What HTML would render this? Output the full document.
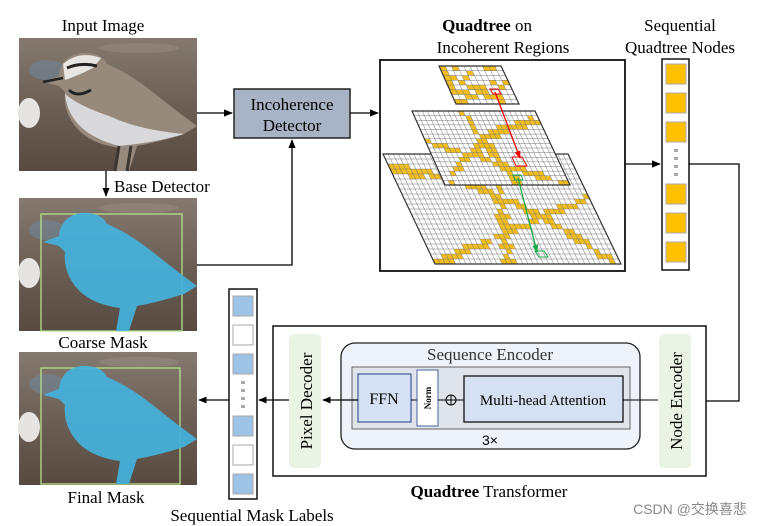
<!DOCTYPE html>
<html><head><meta charset="utf-8"><style>
html,body{margin:0;padding:0;background:#fff;}
svg{display:block;font-family:"Liberation Serif",serif;}
</style></head><body>
<svg id="s" width="762" height="526" viewBox="0 0 762 526" xmlns="http://www.w3.org/2000/svg">
<defs>
<marker id="ar" viewBox="0 0 10 10" refX="9" refY="5" markerWidth="7" markerHeight="7" orient="auto"><path d="M0,1 L10,5 L0,9 z" fill="#000"/></marker>
<marker id="ar2" viewBox="0 0 10 10" refX="9" refY="5" markerWidth="6" markerHeight="6" orient="auto"><path d="M0,1 L10,5 L0,9 z" fill="#e00"/></marker>
<marker id="ar3" viewBox="0 0 10 10" refX="9" refY="5" markerWidth="6" markerHeight="6" orient="auto"><path d="M0,1 L10,5 L0,9 z" fill="#1a4"/></marker>
<linearGradient id="bg" x1="0" y1="0" x2="0" y2="1"><stop offset="0" stop-color="#857a70"/><stop offset="0.5" stop-color="#6c6056"/><stop offset="1" stop-color="#574a40"/></linearGradient>
<path id="bird" d="M24,44 L40,38 Q42,18 62,15 Q82,14 88,26 Q110,35 135,55 Q160,75 178,88 L165,96 Q140,104 118,108 L110,133 L97,133 L101,110 Q70,106 56,88 Q44,72 46,54 L40,48 Z"/>
<g id="photo">
<rect x="0" y="0" width="178" height="133" fill="url(#bg)"/>
<ellipse cx="28" cy="32" rx="18" ry="10" fill="#6f8598" opacity="0.6"/>
<ellipse cx="10" cy="75" rx="11" ry="15" fill="#e6e4e2"/>
<ellipse cx="120" cy="10" rx="40" ry="5" fill="#998e84" opacity="0.5"/>
</g>
</defs>
<text x="103" y="31" font-size="17" text-anchor="middle">Input Image</text>
<use href="#photo" x="19" y="38"/>
<g transform="translate(19,38)">
<use href="#bird" fill="#978a7d"/>
<path d="M46,56 Q50,95 100,108 Q140,104 165,96 Q120,92 90,78 Q60,68 46,56z" fill="#d9d9db"/>
<path d="M44,26 Q60,12 82,20 L74,30 Q58,38 46,42z" fill="#e8e6e2"/>
<path d="M48,30 Q62,24 78,28" stroke="#222" stroke-width="3" fill="none"/>
<path d="M50,52 Q58,60 72,52" stroke="#222" stroke-width="3" fill="none"/>
<path d="M24,44 L44,40" stroke="#222" stroke-width="2.5"/>
<path d="M100,108 L96,133 M112,108 L108,133" stroke="#3a3530" stroke-width="3"/>
</g>
<line x1="106" y1="171" x2="106" y2="196" stroke="#000" stroke-width="1.3" marker-end="url(#ar)"/>
<text x="114" y="192" font-size="17">Base Detector</text>
<use href="#photo" x="19" y="198"/>
<rect x="41" y="214" width="141" height="117" fill="none" stroke="#b5e08a" stroke-width="1.3"/>
<use href="#bird" x="19" y="198" fill="#45b0dc" opacity="0.93"/>
<text x="103" y="348" font-size="17" text-anchor="middle">Coarse Mask</text>
<use href="#photo" x="19" y="352"/>
<rect x="41" y="368" width="139" height="116" fill="none" stroke="#b5e08a" stroke-width="1.3"/>
<use href="#bird" x="19" y="351" fill="#45b0dc" opacity="0.93"/>
<text x="106" y="503" font-size="17" text-anchor="middle">Final Mask</text>

<line x1="197" y1="113" x2="232" y2="113" stroke="#000" stroke-width="1.3" marker-end="url(#ar)"/>
<rect x="234" y="89" width="116" height="49" fill="#a8b3c6" stroke="#222" stroke-width="1.5"/>
<text x="292" y="110" font-size="17" text-anchor="middle">Incoherence</text>
<text x="292" y="131" font-size="17" text-anchor="middle">Detector</text>
<polyline points="197,265 292,265 292,140" fill="none" stroke="#000" stroke-width="1.3" marker-end="url(#ar)"/>
<line x1="350" y1="113" x2="378" y2="113" stroke="#000" stroke-width="1.3" marker-end="url(#ar)"/>

<text x="487" y="31" font-size="17" text-anchor="middle"><tspan font-weight="bold">Quadtree</tspan> on</text>
<text x="503" y="53" font-size="17" text-anchor="middle">Incoherent Regions</text>
<rect x="380" y="60" width="245" height="211" fill="#fff" stroke="#111" stroke-width="1.8"/>
<g id="grids"></g>
<line x1="495" y1="92" x2="520" y2="158" stroke="#e00" stroke-width="1.3" marker-end="url(#ar2)"/>
<line x1="518" y1="178" x2="537" y2="252" stroke="#1a4" stroke-width="1.3" marker-end="url(#ar3)"/>

<text x="680" y="31" font-size="17" text-anchor="middle">Sequential</text>
<text x="680" y="53" font-size="17" text-anchor="middle">Quadtree Nodes</text>
<rect x="662" y="59" width="27" height="211" fill="#fff" stroke="#111" stroke-width="1.5"/>
<g fill="#ffc000" stroke="#aaa" stroke-width="1">
<rect x="666" y="64" width="20" height="20"/><rect x="666" y="93" width="20" height="20"/><rect x="666" y="122" width="20" height="20"/>
<rect x="666" y="184" width="20" height="20"/><rect x="666" y="213" width="20" height="20"/><rect x="666" y="242" width="20" height="20"/>
</g>
<g fill="#aaa"><rect x="674" y="149" width="4" height="3"/><rect x="674" y="157" width="4" height="3"/><rect x="674" y="165" width="4" height="3"/><rect x="674" y="173" width="4" height="3"/></g>
<line x1="625" y1="164" x2="660" y2="164" stroke="#000" stroke-width="1.3" marker-end="url(#ar)"/>
<polyline points="689,164 739,164 739,401 693,401" fill="none" stroke="#000" stroke-width="1.3" marker-end="url(#ar)"/>

<rect x="273" y="326" width="433" height="150" fill="#fff" stroke="#111" stroke-width="1.5"/>
<rect x="289" y="334" width="32" height="134" rx="5" fill="#eaf4e4"/>
<text transform="translate(312,401) rotate(-90)" font-size="17" text-anchor="middle">Pixel Decoder</text>
<rect x="659" y="334" width="32" height="134" rx="5" fill="#eaf4e4"/>
<text transform="translate(682,401) rotate(-90)" font-size="17" text-anchor="middle">Node Encoder</text>
<rect x="341" y="343" width="299" height="106" rx="14" fill="#eef3fb" stroke="#222" stroke-width="1.3"/>
<text x="490" y="360" font-size="17" fill="#333" text-anchor="middle">Sequence Encoder</text>
<rect x="352" y="367" width="278" height="62" fill="#dfe3ea" stroke="#666" stroke-width="1"/>
<rect x="358" y="374" width="53" height="48" fill="#d5e0f2" stroke="#4a64a0" stroke-width="1.3"/>
<text x="384" y="404" font-size="16" text-anchor="middle">FFN</text>
<rect x="417" y="370" width="21" height="56" fill="#fff" stroke="#4a64a0" stroke-width="1"/>
<text transform="translate(431,398) rotate(-90)" font-size="9" font-weight="bold" text-anchor="middle">Norm</text>
<circle cx="451" cy="400" r="5" fill="none" stroke="#000" stroke-width="1"/>
<path d="M446,400 H456 M451,395 V405" stroke="#000" stroke-width="1"/>
<rect x="464" y="376" width="159" height="46" fill="#d5e0f2" stroke="#111" stroke-width="1.3"/>
<text x="543" y="405" font-size="15" text-anchor="middle">Multi-head Attention</text>
<text x="490" y="445" font-size="14" text-anchor="middle" font-family="Liberation Sans,sans-serif">3×</text>
<line x1="658" y1="400" x2="623" y2="400" stroke="#000" stroke-width="1"/>
<line x1="456" y1="400" x2="464" y2="400" stroke="#000" stroke-width="1"/>
<line x1="438" y1="400" x2="446" y2="400" stroke="#000" stroke-width="1"/>
<line x1="411" y1="400" x2="417" y2="400" stroke="#000" stroke-width="1"/>
<line x1="358" y1="400" x2="323" y2="400" stroke="#000" stroke-width="1.2" marker-end="url(#ar)"/>
<text x="489" y="497" font-size="17" text-anchor="middle"><tspan font-weight="bold">Quadtree</tspan> Transformer</text>
<line x1="289" y1="400" x2="259" y2="400" stroke="#000" stroke-width="1.2" marker-end="url(#ar)"/>

<rect x="229" y="289" width="28" height="210" fill="#fff" stroke="#111" stroke-width="1.5"/>
<g stroke="#aaa" stroke-width="1">
<rect x="233" y="296" width="20" height="20" fill="#9dc3e6"/><rect x="233" y="325" width="20" height="20" fill="#fff"/><rect x="233" y="354" width="20" height="20" fill="#9dc3e6"/>
<rect x="233" y="416" width="20" height="20" fill="#9dc3e6"/><rect x="233" y="445" width="20" height="20" fill="#fff"/><rect x="233" y="474" width="20" height="20" fill="#9dc3e6"/>
</g>
<g fill="#aaa"><rect x="241" y="381" width="4" height="3"/><rect x="241" y="389" width="4" height="3"/><rect x="241" y="397" width="4" height="3"/><rect x="241" y="405" width="4" height="3"/></g>
<line x1="229" y1="400" x2="199" y2="400" stroke="#000" stroke-width="1.2" marker-end="url(#ar)"/>
<text x="252" y="521" font-size="17" text-anchor="middle">Sequential Mask Labels</text>
<text x="690" y="514" font-size="14" fill="#888" text-anchor="middle" font-family="Liberation Sans,'Noto Sans CJK SC',sans-serif">CSDN @交换喜悲</text>
</svg>
<script>
(function(){
var g=document.getElementById('grids'),NS='http://www.w3.org/2000/svg';
function grid(TL,TR,BR,BL,nx,ny,f){
 var s='';
 function P(u,v){var x1=TL[0]+(TR[0]-TL[0])*u,y1=TL[1]+(TR[1]-TL[1])*u,x2=BL[0]+(BR[0]-BL[0])*u,y2=BL[1]+(BR[1]-BL[1])*u;return [x1+(x2-x1)*v,y1+(y2-y1)*v];}
 var bg=document.createElementNS(NS,'polygon');bg.setAttribute('points',[TL,TR,BR,BL].join(' '));bg.setAttribute('fill','#fff');g.appendChild(bg);
 for(var i=0;i<nx;i++)for(var j=0;j<ny;j++){if(f((i+0.5)/nx,(j+0.5)/ny,i,j)){var a=P(i/nx,j/ny),b=P((i+1)/nx,j/ny),c=P((i+1)/nx,(j+1)/ny),d=P(i/nx,(j+1)/ny);s+='M'+a+'L'+b+'L'+c+'L'+d+'Z';}}
 var y=document.createElementNS(NS,'path');y.setAttribute('d',s);y.setAttribute('fill','#f2be1e');g.appendChild(y);
 var l='';for(var i=0;i<=nx;i++){var a=P(i/nx,0),b=P(i/nx,1);l+='M'+a+'L'+b;}for(var j=0;j<=ny;j++){var a=P(0,j/ny),b=P(1,j/ny);l+='M'+a+'L'+b;}
 var p=document.createElementNS(NS,'path');p.setAttribute('d',l);p.setAttribute('stroke','#777');p.setAttribute('stroke-width','0.5');p.setAttribute('fill','none');g.appendChild(p);
 var o=document.createElementNS(NS,'polygon');o.setAttribute('points',[TL,TR,BR,BL].join(' '));o.setAttribute('fill','none');o.setAttribute('stroke','#333');o.setAttribute('stroke-width','1.2');g.appendChild(o);
}
function h(i,j){var x=Math.sin(i*12.9898+j*78.233)*43758.5453;return x-Math.floor(x);}
function curve(u,v){
 var d1=Math.abs(v-(0.15+0.9*u*u)), d2=Math.abs(v-(1-0.6*u)), d3=Math.abs(u-0.6+0.2*v);
 return Math.min(d1,d2*1.3,d3*1.5);
}
grid([383,154],[568,154],[621,264],[435,264],36,22,function(u,v,i,j){var c=curve(u,v);return c<0.025||(c<0.05&&h(i,j)<0.45);});
grid([412,111],[535,111],[570,185],[445,185],24,16,function(u,v,i,j){var c=curve(1-u,v);return c<0.03||(c<0.06&&h(i,j)<0.4);});
grid([439,66],[501,66],[519,104],[456,104],10,8,function(u,v,i,j){return h(i,j)<0.35;});
var r=document.createElementNS(NS,'polygon');r.setAttribute('points','490,89 498,89 501,94 493,94');r.setAttribute('fill','none');r.setAttribute('stroke','#e00');g.appendChild(r);
var r2=document.createElementNS(NS,'polygon');r2.setAttribute('points','512,157 522,157 527,166 516,166');r2.setAttribute('fill','none');r2.setAttribute('stroke','#e00');g.appendChild(r2);
var r3=document.createElementNS(NS,'polygon');r3.setAttribute('points','513,175 521,175 523,180 515,180');r3.setAttribute('fill','none');r3.setAttribute('stroke','#1a4');g.appendChild(r3);
var r4=document.createElementNS(NS,'polygon');r4.setAttribute('points','535,251 544,251 548,257 539,257');r4.setAttribute('fill','none');r4.setAttribute('stroke','#1a4');g.appendChild(r4);
})();
</script>
</body></html>
